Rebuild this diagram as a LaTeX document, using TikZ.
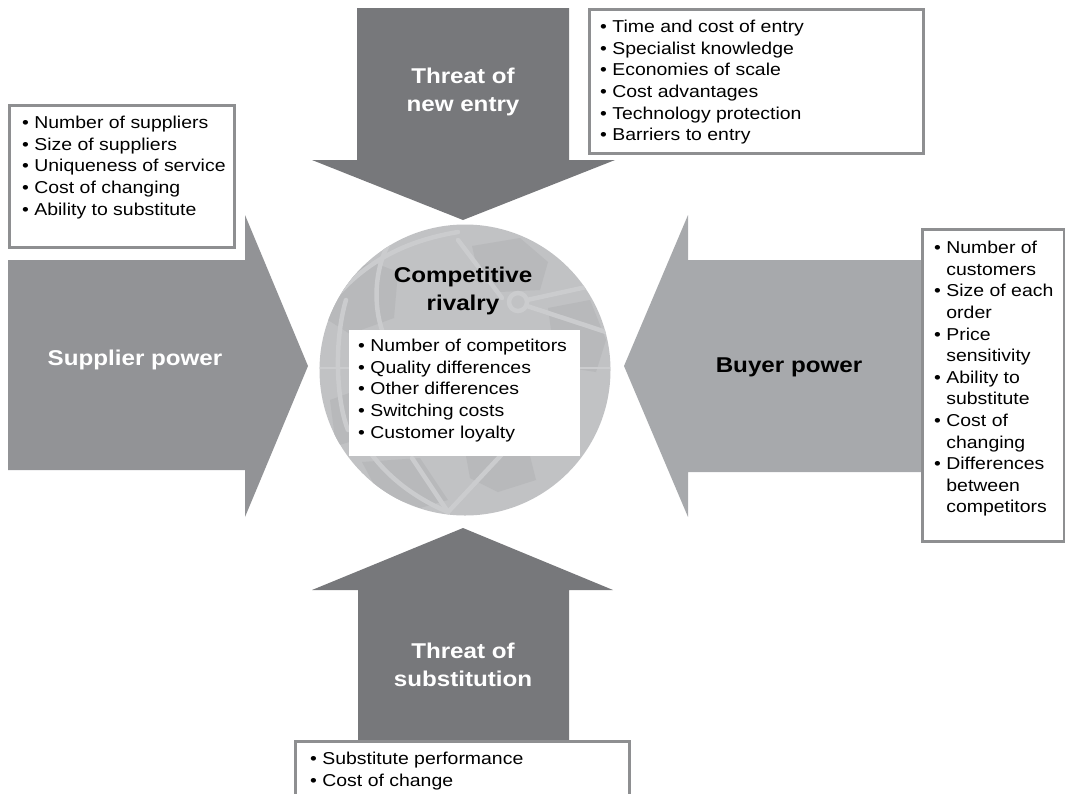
\documentclass[tikz,border=0pt]{standalone}
\usepackage{fontspec}
\setmainfont{Liberation Sans}[FakeStretch=1.13]

\definecolor{arrowdark}{HTML}{77787B}
\definecolor{arrowmid}{HTML}{929396}
\definecolor{arrowlight}{HTML}{A7A9AC}
\definecolor{globebase}{HTML}{C1C2C4}
\definecolor{globepatch}{HTML}{B8B9BB}
\definecolor{globeline}{HTML}{CBCCCE}
\definecolor{boxgray}{HTML}{8E8F91}

\newcommand{\itembul}{\textbullet\ }
\newcommand{\contind}{\phantom{\textbullet\ }}

\begin{document}
\begin{tikzpicture}[x=1pt,y=-1pt,
  listtext/.style={font=\fontsize{17.2}{21.6}\selectfont, align=left,
                   inner sep=0pt, anchor=north west, text=black},
  forcename/.style={font=\fontsize{21.4}{28}\selectfont\bfseries,
                   align=center, inner sep=0pt},
  infobox/.style={draw=boxgray, line width=2.5pt, fill=white,
                  inner sep=0pt, anchor=north west},
  mapline/.style={draw=globeline, line width=4.5pt, line cap=round},
]
\useasboundingbox (0,0) rectangle (1065,793);

% the four force arrows
\fill[arrowmid]   (8,260) -- (245,260) -- (245,215) -- (308,366)
                  -- (245,517) -- (245,470) -- (8,470) -- cycle;
\fill[arrowlight] (921,260) -- (688,260) -- (688,215) -- (624,366)
                  -- (688,517) -- (688,472) -- (921,472) -- cycle;
\fill[arrowdark]  (357,8) -- (569,8) -- (569,160) -- (615,160)
                  -- (463,220) -- (312,160) -- (357,160) -- cycle;
\fill[arrowdark]  (358,745) -- (569,745) -- (569,590) -- (613,590)
                  -- (463,528) -- (312,590) -- (358,590) -- cycle;

% globe in the centre
\node[circle, fill=globebase, minimum size=291pt, inner sep=0pt] (globe) at (465,370) {};
\begin{scope}
  \clip (globe.center) circle (145.5pt);
  % land masses
  \fill[globepatch] (330,280) -- (372,262) -- (398,272) -- (394,318) -- (350,334) -- (328,320) -- cycle;
  \fill[globepatch] (472,246) -- (520,238) -- (548,262) -- (540,290) -- (500,292) -- (478,272) -- cycle;
  \fill[globepatch] (548,308) -- (590,300) -- (606,340) -- (596,372) -- (556,366) -- cycle;
  \fill[globepatch] (362,462) -- (420,458) -- (448,500) -- (420,508) -- (378,492) -- cycle;
  \fill[globepatch] (466,456) -- (530,456) -- (536,480) -- (498,492) -- (470,478) -- cycle;
  \fill[globepatch] (330,400) -- (352,392) -- (356,440) -- (336,446) -- cycle;
  % grid and route lines
  \draw[mapline] (340,292) .. controls (372,258) and (410,240) .. (458,232);
  \draw[mapline] (458,240) -- (502,298);
  \draw[mapline] (518,302) circle (9pt);
  \draw[mapline] (527,300) -- (600,284);
  \draw[mapline] (527,306) -- (612,334);
  \draw[mapline] (360,436) .. controls (378,470) and (410,496) .. (448,512);
  \draw[mapline] (448,512) -- (504,452);
  \draw[mapline] (412,458) -- (448,512);
  \draw[mapline] (392,238) .. controls (376,262) and (372,300) .. (382,330);
  \draw[globeline, line width=1.5pt] (318,368) -- (612,368);
  \draw[mapline] (346,300) .. controls (334,340) and (336,400) .. (348,430);
\end{scope}

% central rivalry box
\node[forcename, text=black] (rivalry) at (463,291) {Competitive\\rivalry};
\node[infobox, draw=none, minimum width=231pt, minimum height=126pt] (rivbox) at (348,329) {};
\node[listtext] (rivtext) at (358,339)
  {\itembul Number of competitors\\ \itembul Quality differences\\
   \itembul Other differences\\ \itembul Switching costs\\ \itembul Customer loyalty};

% arrow labels
\node[forcename, text=white] (entry) at (463,92) {Threat of\\new entry};
\node[forcename, text=white] (subst) at (463,665) {Threat of\\substitution};
\node[forcename, text=white] (supplier) at (135,360) {Supplier power};
\node[forcename, text=black] (buyer) at (789,367) {Buyer power};

% factor boxes
\node[infobox, minimum width=225pt, minimum height=142pt] (supbox) at (8,104) {};
\node[listtext] (suptext) at (22,116)
  {\itembul Number of suppliers\\ \itembul Size of suppliers\\
   \itembul Uniqueness of service\\ \itembul Cost of changing\\
   \itembul Ability to substitute};

\node[infobox, minimum width=334pt, minimum height=144pt] (entrybox) at (588,8) {};
\node[listtext] (entrytext) at (600,20)
  {\itembul Time and cost of entry\\ \itembul Specialist knowledge\\
   \itembul Economies of scale\\ \itembul Cost advantages\\
   \itembul Technology protection\\ \itembul Barriers to entry};

\node[infobox, minimum width=142pt, minimum height=312pt] (buybox) at (921,228) {};
\node[listtext] (buytext) at (934,241)
  {\itembul Number of\\ \contind customers\\ \itembul Size of each\\ \contind order\\
   \itembul Price\\ \contind sensitivity\\ \itembul Ability to\\ \contind substitute\\
   \itembul Cost of\\ \contind changing\\ \itembul Differences\\ \contind between\\
   \contind competitors};

\node[infobox, minimum width=334pt, minimum height=70pt] (subbox) at (294,740) {};
\node[listtext] (subtext) at (310,752)
  {\itembul Substitute performance\\ \itembul Cost of change};
\end{tikzpicture}
\end{document}
